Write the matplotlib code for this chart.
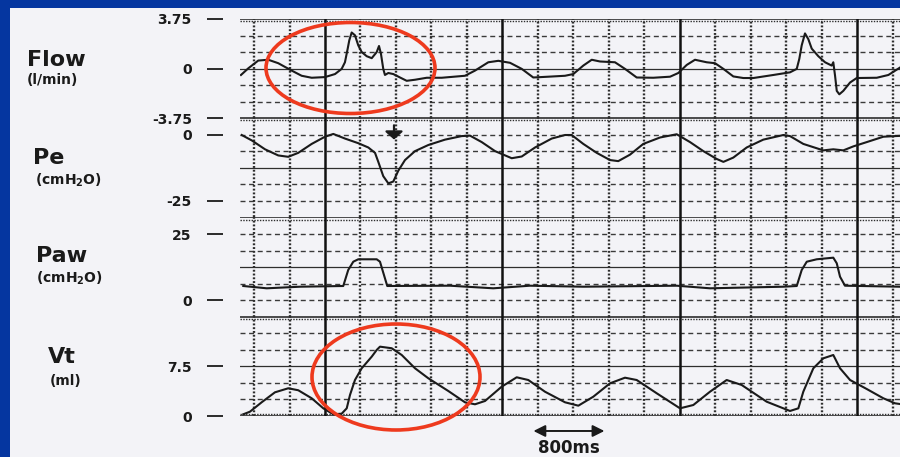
import numpy as np
import matplotlib.pyplot as plt
from matplotlib.patches import Ellipse, Rectangle

plt.rcParams['font.family'] = 'DejaVu Sans'

W, H = 900, 457
PAPER = '#F3F3F7'
BLUE = '#0536A0'
INK = '#1A1A1A'
GRID = '#2E2E2E'
RED = '#EE3A1E'

# time in seconds, 0 on the first heavy division, 0.4 s per small division
flow_t = [-0.947, -0.865, -0.752, -0.639, -0.527, -0.375, -0.263, -0.150, 0.000, 0.113,
          0.188, 0.225, 0.256, 0.274, 0.301, 0.338, 0.375, 0.414, 0.470, 0.527,
          0.583, 0.609, 0.631, 0.657, 0.676, 0.714, 0.770, 0.846, 0.921, 1.015,
          1.147, 1.316, 1.578, 1.691, 1.841, 1.954, 2.086, 2.218, 2.348, 2.518,
          2.706, 2.799, 2.912, 3.007, 3.100, 3.269, 3.382, 3.514, 3.701, 3.890,
          3.983, 4.078, 4.171, 4.303, 4.397, 4.491, 4.603, 4.716, 4.829, 5.054,
          5.242, 5.318, 5.347, 5.374, 5.411, 5.449, 5.487, 5.561, 5.637, 5.712,
          5.730, 5.750, 5.769, 5.798, 5.843, 5.919, 5.994, 6.220, 6.351, 6.482]
flow = [-0.48, 0.02, 0.61, 0.67, 0.41, -0.15, -0.54, -0.69, -0.64, -0.41,
        -0.02, 0.48, 1.51, 2.14, 2.73, 2.52, 1.76, 1.25, 0.94, 0.79,
        1.25, 1.71, 1.12, -0.02, -0.48, -0.33, -0.41, -0.67, -0.92, -0.84,
        -0.69, -0.69, -0.54, -0.15, 0.48, 0.59, 0.44, -0.02, -0.67, -0.61,
        -0.54, -0.41, 0.23, 0.67, 0.54, 0.48, -0.02, -0.67, -0.69, -0.61,
        -0.33, 0.28, 0.67, 0.48, 0.41, -0.02, -0.59, -0.71, -0.71, -0.48,
        -0.28, -0.02, 0.74, 1.76, 2.66, 2.22, 1.51, 0.94, 0.48, 0.23,
        0.48, -0.54, -1.68, -1.94, -1.68, -1.05, -0.71, -0.69, -0.48, 0.08]

pe_t = [-0.939, -0.826, -0.676, -0.527, -0.414, -0.301, -0.150, 0.000, 0.094, 0.225,
        0.375, 0.488, 0.564, 0.601, 0.657, 0.714, 0.770, 0.826, 0.902, 1.015,
        1.165, 1.353, 1.541, 1.635, 1.767, 1.917, 2.105, 2.218, 2.368, 2.556,
        2.706, 2.781, 2.912, 3.063, 3.213, 3.306, 3.438, 3.588, 3.777, 3.965,
        4.115, 4.265, 4.416, 4.491, 4.603, 4.754, 4.941, 5.167, 5.242, 5.392,
        5.543, 5.617, 5.730, 5.843, 5.956, 6.107, 6.294, 6.426, 6.482]
pe = [-0.08, -2.11, -5.48, -7.80, -8.32, -6.82, -3.45, -0.73, 0.32, -1.42,
      -3.17, -4.79, -6.82, -10.23, -15.63, -18.35, -17.66, -13.60, -9.54, -6.17,
      -3.86, -1.83, -0.49, -0.32, -2.76, -6.17, -8.85, -8.20, -4.79, -1.42,
      -0.08, -0.08, -3.45, -6.82, -9.54, -9.95, -7.51, -3.45, -1.02, 0.20,
      -2.76, -6.17, -9.14, -10.23, -8.61, -4.79, -1.83, -0.08, -0.49, -3.45,
      -5.08, -5.89, -5.48, -5.89, -4.38, -2.76, -0.73, -0.49, -0.41]

paw_t = [-0.921, -0.657, -0.282, 0.206, 0.262, 0.319, 0.375, 0.583, 0.620, 0.676,
         0.702, 1.409, 1.897, 2.311, 2.912, 3.965, 4.340, 5.167, 5.318, 5.374,
         5.431, 5.543, 5.730, 5.769, 5.806, 5.862, 6.482]
paw = [5.37, 4.50, 5.10, 5.37, 11.42, 14.55, 15.46, 15.46, 14.55, 8.28,
       5.37, 5.48, 4.50, 5.48, 5.10, 5.48, 4.50, 5.10, 5.37, 11.42,
       14.55, 15.46, 16.07, 13.95, 8.88, 5.48, 5.10]

vt_t = [-0.921, -0.846, -0.714, -0.564, -0.414, -0.301, -0.150, -0.019, 0.094, 0.188,
        0.245, 0.282, 0.338, 0.414, 0.527, 0.583, 0.620, 0.752, 0.865, 1.015,
        1.165, 1.390, 1.578, 1.691, 1.804, 1.992, 2.161, 2.292, 2.480, 2.706,
        2.856, 3.025, 3.213, 3.382, 3.514, 3.740, 4.002, 4.152, 4.340, 4.528,
        4.697, 4.979, 5.242, 5.336, 5.392, 5.505, 5.618, 5.730, 5.806, 5.919,
        6.107, 6.294, 6.426, 6.482]
vt = [0.26, 0.65, 2.07, 3.58, 4.19, 3.89, 2.68, 1.16, 0.26, 0.35,
      1.16, 3.18, 5.44, 7.21, 8.97, 9.98, 10.48, 10.24, 9.22, 7.21,
      5.70, 3.78, 2.07, 1.77, 2.27, 4.43, 5.85, 5.44, 3.67, 2.07,
      1.56, 2.92, 4.94, 5.79, 5.44, 3.43, 1.16, 1.66, 3.67, 5.44,
      4.69, 2.16, 0.76, 1.16, 3.67, 7.21, 8.72, 9.22, 7.21, 5.44,
      4.08, 2.68, 1.92, 1.81]

names = ['Flow', 'Pe', 'Paw', 'Vt']
units = ['(l/min)', r'(cmH$_\mathbf{2}$O)', r'(cmH$_\mathbf{2}$O)', '(ml)']
ylims = [(-3.75, 3.75), (-31.25, 6.25), (-6.25, 31.25), (0, 15)]
yticks = [[3.75, 0, -3.75], [0, -25], [25, 0], [7.5, 0]]
ytick_labels = [['3.75', '0', '-3.75'], ['0', '-25'], ['25', '0'], ['7.5', '0']]
traces = [(flow_t, flow), (pe_t, pe), (paw_t, paw), (vt_t, vt)]

T0, T1 = -0.958, 6.482
SCALE_MS = 800

# pixel layout of the strip chart
X0, X1 = 240, 900
TOP, ROW = 19, 99.25
name_pos = [(27, 60), (33, 158), (36, 256), (48, 357)]
unit_pos = [(27, 80), (35, 180), (36, 278), (50, 381)]


def px_rect(x0, y0, x1, y1):
    return [x0 / W, 1 - y1 / H, (x1 - x0) / W, (y1 - y0) / H]


fig = plt.figure(figsize=(W / 100, H / 100), dpi=100)
fig.patch.set_facecolor(PAPER)

axes = []
for k in range(4):
    y0 = TOP + k * ROW
    ax = fig.add_axes(px_rect(X0, y0, X1, y0 + ROW))
    ax.patch.set_alpha(0)
    lo, hi = ylims[k]
    ax.set_xlim(T0, T1)
    ax.set_ylim(lo, hi)
    step = (hi - lo) / 6

    # horizontal paper lines: heavy border, solid mid line, dashed rest
    for i, yv in enumerate(np.linspace(hi, lo, 7)):
        if i == 0:
            ax.axhline(yv, color=GRID, lw=1.2, zorder=1)
            ax.axhline(yv - 0.13 * step, color=GRID, lw=1.0, ls=(0, (1, 1)), zorder=1)
        elif i == 6:
            ax.axhline(yv, color=GRID, lw=1.2, zorder=1)
            if k == 3:
                ax.axhline(yv + 0.13 * step, color=GRID, lw=1.0, ls=(0, (1, 1)), zorder=1)
        elif i == 3:
            ax.axhline(yv, color=GRID, lw=0.9, zorder=1)
        else:
            ax.axhline(yv, color='#3A3A3A', lw=1.0, ls=(0, (3.6, 2.6)), zorder=1)

    # vertical time lines: dotted every 0.4 s, heavy every 2 s
    for j in range(-2, 17):
        tv = 0.4 * j
        if j % 5 == 0:
            ax.axvline(tv, color='#111111', lw=1.8, zorder=1)
        else:
            ax.axvline(tv, color=GRID, lw=1.7, ls=(0, (0.8, 0.8)), zorder=1)

    t, v = traces[k]
    ax.plot(t, v, color=INK, lw=1.5, solid_joinstyle='round', zorder=3)

    for s in ax.spines.values():
        s.set_visible(False)
    ax.spines['left'].set_position(('outward', 12.2))
    ax.set_xticks([])
    ax.set_yticks(yticks[k], ytick_labels[k])
    ax.tick_params(axis='y', length=11.5, width=1.3, direction='out',
                   pad=11, labelsize=10, colors=INK)
    for lbl in ax.get_yticklabels():
        lbl.set_fontweight('bold')
    axes.append(ax)

# arrow marking the oesophageal pressure dip
axes[1].annotate('', xy=(0.778, -1.8), xytext=(0.778, 3.6),
                 arrowprops=dict(arrowstyle='-|>,head_length=0.32,head_width=0.36',
                                 color=INK, lw=1.6, mutation_scale=15,
                                 shrinkA=0, shrinkB=0), zorder=4)

# time scale bar under the Vt strip
vax = axes[3]
tc = 2.75
half = SCALE_MS / 1000 / 2
vax.annotate('', xy=(tc + half, -0.151), xytext=(tc - half, -0.151),
             xycoords=vax.get_xaxis_transform(), textcoords=vax.get_xaxis_transform(),
             arrowprops=dict(arrowstyle='<|-|>,head_length=0.5,head_width=0.25',
                             color=INK, lw=1.4, mutation_scale=14,
                             shrinkA=0, shrinkB=0), annotation_clip=False)
vax.text(tc, -0.325, f'{SCALE_MS}ms', transform=vax.get_xaxis_transform(),
         ha='center', va='center', fontsize=12, fontweight='bold', color=INK)

# overlay in pixel units: slide border, channel names, red highlights
ov = fig.add_axes([0, 0, 1, 1], zorder=10)
ov.set_xlim(0, W)
ov.set_ylim(H, 0)
ov.axis('off')
ov.patch.set_alpha(0)
ov.add_patch(Rectangle((0, 0), W, 8, fc=BLUE, ec='none'))
ov.add_patch(Rectangle((0, 0), 10, H, fc=BLUE, ec='none'))

for k in range(4):
    ov.text(*name_pos[k], names[k], ha='left', va='center', fontsize=16,
            fontweight='bold', color=INK)
    ov.text(*unit_pos[k], units[k], ha='left', va='center', fontsize=10,
            fontweight='bold', color=INK)

ov.add_patch(Ellipse((350.5, 68), 169, 91, fc='none', ec=RED, lw=2.6))
ov.add_patch(Ellipse((396, 377), 168, 106, fc='none', ec=RED, lw=2.6))

fig.savefig('out.png', dpi=100, facecolor=PAPER)
